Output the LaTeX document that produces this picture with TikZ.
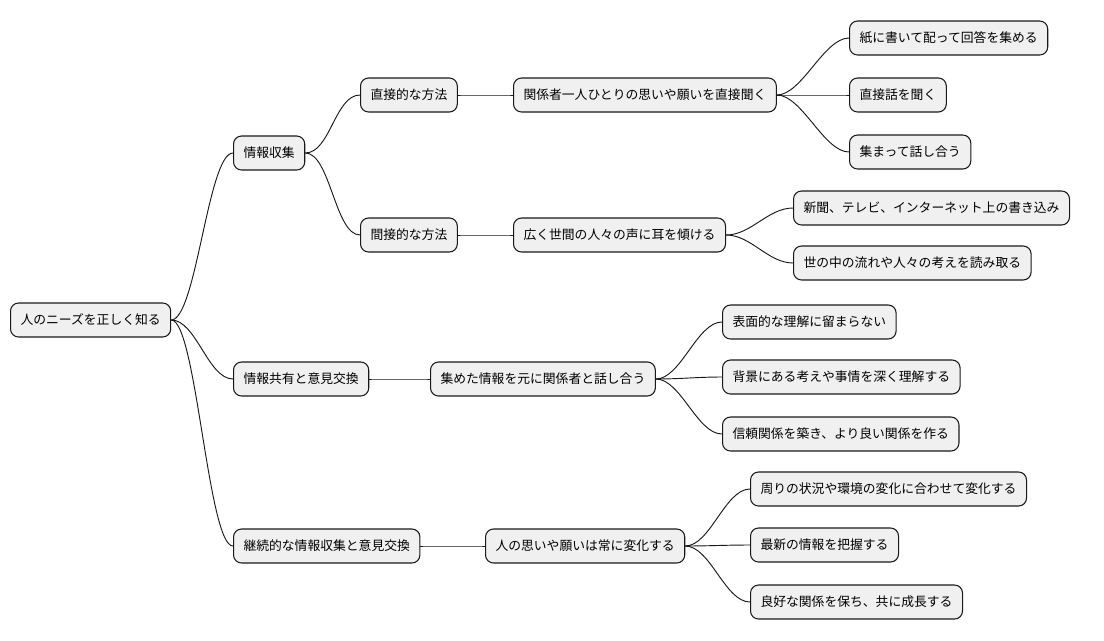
\documentclass[tikz,border=0pt]{standalone}
\usepackage{fontspec}
\setmainfont{Noto Sans CJK JP}
\begin{document}
\begin{tikzpicture}[x=0.75pt,y=-0.75pt,
  box/.style={draw=black!90,fill=black!6,rounded corners=6pt,line width=0.8pt,anchor=west,
    minimum height=25.5pt,inner xsep=7.5pt,font=\fontsize{9.6pt}{11pt}\selectfont},
  ln/.style={line width=0.7pt,black!90}]
\useasboundingbox (0,0) rectangle (1104,640);
\node[box] (r) at (10,320) {人のニーズを正しく知る};
\node[box] (a) at (233,153) {情報収集};
\node[box] (a1) at (360,95) {直接的な方法};
\node[box] (a1x) at (513,95) {関係者一人ひとりの思いや願いを直接聞く};
\node[box] (a1a) at (849,38) {紙に書いて配って回答を集める};
\node[box] (a1b) at (849,95) {直接話を聞く};
\node[box] (a1c) at (849,152) {集まって話し合う};
\node[box] (a2) at (360,235) {間接的な方法};
\node[box] (a2x) at (513,235) {広く世間の人々の声に耳を傾ける};
\node[box] (a2a) at (793,208) {新聞、テレビ、インターネット上の書き込み};
\node[box] (a2b) at (793,263) {世の中の流れや人々の考えを読み取る};
\node[box] (b) at (233,379) {情報共有と意見交換};
\node[box] (bx) at (430,379) {集めた情報を元に関係者と話し合う};
\node[box] (ba) at (722,322) {表面的な理解に留まらない};
\node[box] (bb) at (722,377) {背景にある考えや事情を深く理解する};
\node[box] (bc) at (722,434) {信頼関係を築き、より良い関係を作る};
\node[box] (c) at (233,546) {継続的な情報収集と意見交換};
\node[box] (cx) at (485,546) {人の思いや願いは常に変化する};
\node[box] (ca) at (750,489) {周りの状況や環境の変化に合わせて変化する};
\node[box] (cb) at (750,545) {最新の情報を把握する};
\node[box] (cc) at (750,602) {良好な関係を保ち、共に成長する};
\foreach \p/\c in {r/a,r/b,r/c,a/a1,a/a2,a1/a1x,a1x/a1a,a1x/a1b,a1x/a1c,a2/a2x,a2x/a2a,a2x/a2b,b/bx,bx/ba,bx/bb,bx/bc,c/cx,cx/ca,cx/cb,cx/cc}
  \draw[ln] (\p.east) .. controls +(25,0) and +(-25,0) .. (\c.west);
\end{tikzpicture}
\end{document}
